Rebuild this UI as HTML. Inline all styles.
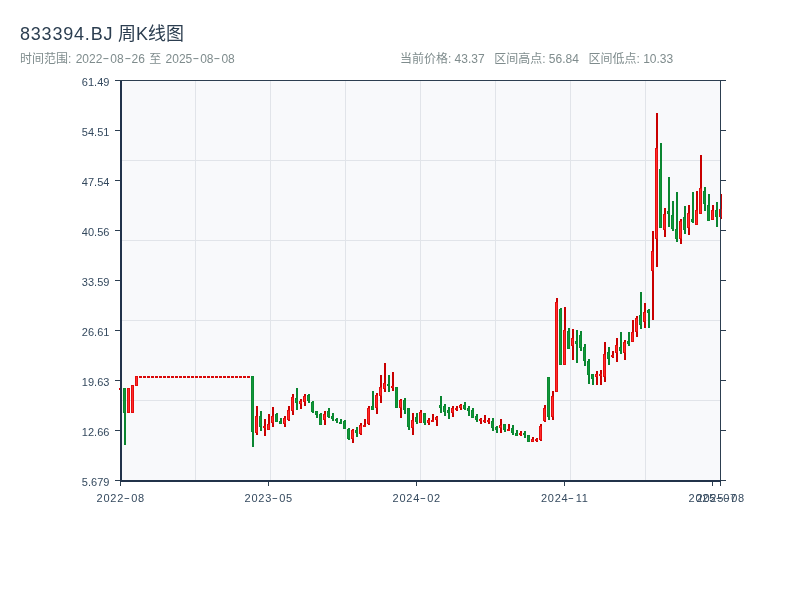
<!DOCTYPE html>
<html lang="zh-CN"><head><meta charset="utf-8"><title>833394.BJ 周K线图</title>
<style>
html,body{margin:0;padding:0;background:#fff;}
body{width:800px;height:600px;position:relative;overflow:hidden;font-family:"Liberation Sans","Noto Sans CJK SC",sans-serif;}
.t{position:absolute;white-space:pre;line-height:1;}
.title{left:20px;top:25px;font-size:18px;color:#2c3e50;}
.title .la{letter-spacing:0.8px;}
.title .cj{letter-spacing:0px;margin-left:-1px;}
.sub{top:52.6px;font-size:12px;color:#7f8c8d;word-spacing:1px;}
.yl{font-size:11px;color:#34495e;text-align:right;width:60px;left:49.4px;}
.xl{font-size:11px;color:#34495e;text-align:center;width:80px;letter-spacing:0.75px;padding-left:0.75px;}
.xl .d{width:7.2px;}
.d{display:inline-block;position:relative;top:-0.6px;width:7.9px;text-align:center;transform:scaleX(1.7);}
</style></head><body>
<svg width="800" height="600" viewBox="0 0 800 600" shape-rendering="crispEdges" style="position:absolute;left:0;top:0">
<rect x="120" y="80" width="601" height="401" fill="#f8f9fb"/>
<rect x="195" y="80" width="1" height="400" fill="#e1e4e9"/>
<rect x="270" y="80" width="1" height="400" fill="#e1e4e9"/>
<rect x="345" y="80" width="1" height="400" fill="#e1e4e9"/>
<rect x="420" y="80" width="1" height="400" fill="#e1e4e9"/>
<rect x="495" y="80" width="1" height="400" fill="#e1e4e9"/>
<rect x="570" y="80" width="1" height="400" fill="#e1e4e9"/>
<rect x="645" y="80" width="1" height="400" fill="#e1e4e9"/>
<rect x="120" y="160" width="600" height="1" fill="#e1e4e9"/>
<rect x="120" y="240" width="600" height="1" fill="#e1e4e9"/>
<rect x="120" y="320" width="600" height="1" fill="#e1e4e9"/>
<rect x="120" y="400" width="600" height="1" fill="#e1e4e9"/>
<g id="candles">
<rect x="120" y="388" width="2" height="2" fill="#c90000"/>
<rect x="119" y="388" width="3" height="2" fill="#d80808"/>
<rect x="124" y="388" width="2" height="57" fill="#0a8530"/>
<rect x="123" y="388" width="3" height="25" fill="#0a8a30"/>
<rect x="124" y="389" width="1" height="23" fill="#12963a"/>
<rect x="128" y="388" width="2" height="25" fill="#c90000"/>
<rect x="127" y="388" width="3" height="25" fill="#e30d0d"/>
<rect x="128" y="389" width="1" height="23" fill="#ff2b2b"/>
<rect x="132" y="385" width="2" height="28" fill="#c90000"/>
<rect x="131" y="385" width="3" height="28" fill="#e30d0d"/>
<rect x="132" y="386" width="1" height="26" fill="#ff2b2b"/>
<rect x="136" y="376" width="2" height="10" fill="#c90000"/>
<rect x="135" y="376" width="3" height="10" fill="#e30d0d"/>
<rect x="136" y="377" width="1" height="8" fill="#ff2b2b"/>
<rect x="140" y="376" width="2" height="2" fill="#c90000"/>
<rect x="139" y="376" width="3" height="2" fill="#d80808"/>
<rect x="144" y="376" width="2" height="2" fill="#c90000"/>
<rect x="143" y="376" width="3" height="2" fill="#d80808"/>
<rect x="148" y="376" width="2" height="2" fill="#c90000"/>
<rect x="147" y="376" width="3" height="2" fill="#d80808"/>
<rect x="152" y="376" width="2" height="2" fill="#c90000"/>
<rect x="151" y="376" width="3" height="2" fill="#d80808"/>
<rect x="156" y="376" width="2" height="2" fill="#c90000"/>
<rect x="155" y="376" width="3" height="2" fill="#d80808"/>
<rect x="160" y="376" width="2" height="2" fill="#c90000"/>
<rect x="159" y="376" width="3" height="2" fill="#d80808"/>
<rect x="164" y="376" width="2" height="2" fill="#c90000"/>
<rect x="163" y="376" width="3" height="2" fill="#d80808"/>
<rect x="168" y="376" width="2" height="2" fill="#c90000"/>
<rect x="167" y="376" width="3" height="2" fill="#d80808"/>
<rect x="172" y="376" width="2" height="2" fill="#c90000"/>
<rect x="171" y="376" width="3" height="2" fill="#d80808"/>
<rect x="176" y="376" width="2" height="2" fill="#c90000"/>
<rect x="175" y="376" width="3" height="2" fill="#d80808"/>
<rect x="180" y="376" width="2" height="2" fill="#c90000"/>
<rect x="179" y="376" width="3" height="2" fill="#d80808"/>
<rect x="184" y="376" width="2" height="2" fill="#c90000"/>
<rect x="183" y="376" width="3" height="2" fill="#d80808"/>
<rect x="188" y="376" width="2" height="2" fill="#c90000"/>
<rect x="187" y="376" width="3" height="2" fill="#d80808"/>
<rect x="192" y="376" width="2" height="2" fill="#c90000"/>
<rect x="191" y="376" width="3" height="2" fill="#d80808"/>
<rect x="196" y="376" width="2" height="2" fill="#c90000"/>
<rect x="195" y="376" width="3" height="2" fill="#d80808"/>
<rect x="200" y="376" width="2" height="2" fill="#c90000"/>
<rect x="199" y="376" width="3" height="2" fill="#d80808"/>
<rect x="204" y="376" width="2" height="2" fill="#c90000"/>
<rect x="203" y="376" width="3" height="2" fill="#d80808"/>
<rect x="208" y="376" width="2" height="2" fill="#c90000"/>
<rect x="207" y="376" width="3" height="2" fill="#d80808"/>
<rect x="212" y="376" width="2" height="2" fill="#c90000"/>
<rect x="211" y="376" width="3" height="2" fill="#d80808"/>
<rect x="216" y="376" width="2" height="2" fill="#c90000"/>
<rect x="215" y="376" width="3" height="2" fill="#d80808"/>
<rect x="220" y="376" width="2" height="2" fill="#c90000"/>
<rect x="219" y="376" width="3" height="2" fill="#d80808"/>
<rect x="224" y="376" width="2" height="2" fill="#c90000"/>
<rect x="223" y="376" width="3" height="2" fill="#d80808"/>
<rect x="228" y="376" width="2" height="2" fill="#c90000"/>
<rect x="227" y="376" width="3" height="2" fill="#d80808"/>
<rect x="232" y="376" width="2" height="2" fill="#c90000"/>
<rect x="231" y="376" width="3" height="2" fill="#d80808"/>
<rect x="236" y="376" width="2" height="2" fill="#c90000"/>
<rect x="235" y="376" width="3" height="2" fill="#d80808"/>
<rect x="240" y="376" width="2" height="2" fill="#c90000"/>
<rect x="239" y="376" width="3" height="2" fill="#d80808"/>
<rect x="244" y="376" width="2" height="2" fill="#c90000"/>
<rect x="243" y="376" width="3" height="2" fill="#d80808"/>
<rect x="248" y="376" width="2" height="2" fill="#c90000"/>
<rect x="247" y="376" width="3" height="2" fill="#d80808"/>
<rect x="252" y="376" width="2" height="71" fill="#0a8530"/>
<rect x="251" y="376" width="3" height="56" fill="#0a8a30"/>
<rect x="252" y="377" width="1" height="54" fill="#12963a"/>
<rect x="256" y="406" width="2" height="29" fill="#c90000"/>
<rect x="255" y="416" width="3" height="17" fill="#e30d0d"/>
<rect x="256" y="417" width="1" height="15" fill="#ff2b2b"/>
<rect x="260" y="411" width="2" height="20" fill="#0a8530"/>
<rect x="259" y="416" width="3" height="11" fill="#0a8a30"/>
<rect x="260" y="417" width="1" height="9" fill="#12963a"/>
<rect x="264" y="419" width="2" height="17" fill="#c90000"/>
<rect x="263" y="426" width="3" height="2" fill="#e30d0d"/>
<rect x="268" y="414" width="2" height="16" fill="#c90000"/>
<rect x="267" y="424" width="3" height="6" fill="#e30d0d"/>
<rect x="268" y="425" width="1" height="4" fill="#ff2b2b"/>
<rect x="272" y="407" width="2" height="20" fill="#c90000"/>
<rect x="271" y="416" width="3" height="7" fill="#e30d0d"/>
<rect x="272" y="417" width="1" height="5" fill="#ff2b2b"/>
<rect x="276" y="413" width="2" height="9" fill="#0a8530"/>
<rect x="275" y="414" width="3" height="8" fill="#0a8a30"/>
<rect x="276" y="415" width="1" height="6" fill="#12963a"/>
<rect x="280" y="418" width="2" height="6" fill="#0a8530"/>
<rect x="279" y="421" width="3" height="3" fill="#0a8a30"/>
<rect x="280" y="422" width="1" height="1" fill="#12963a"/>
<rect x="284" y="416" width="2" height="11" fill="#c90000"/>
<rect x="283" y="418" width="3" height="6" fill="#e30d0d"/>
<rect x="284" y="419" width="1" height="4" fill="#ff2b2b"/>
<rect x="288" y="406" width="2" height="15" fill="#c90000"/>
<rect x="287" y="410" width="3" height="10" fill="#e30d0d"/>
<rect x="288" y="411" width="1" height="8" fill="#ff2b2b"/>
<rect x="292" y="394" width="2" height="21" fill="#c90000"/>
<rect x="291" y="397" width="3" height="14" fill="#e30d0d"/>
<rect x="292" y="398" width="1" height="12" fill="#ff2b2b"/>
<rect x="296" y="388" width="2" height="22" fill="#0a8530"/>
<rect x="295" y="398" width="3" height="5" fill="#0a8a30"/>
<rect x="296" y="399" width="1" height="3" fill="#12963a"/>
<rect x="300" y="399" width="2" height="10" fill="#c90000"/>
<rect x="299" y="401" width="3" height="3" fill="#e30d0d"/>
<rect x="300" y="402" width="1" height="1" fill="#ff2b2b"/>
<rect x="304" y="394" width="2" height="12" fill="#c90000"/>
<rect x="303" y="396" width="3" height="6" fill="#e30d0d"/>
<rect x="304" y="397" width="1" height="4" fill="#ff2b2b"/>
<rect x="308" y="394" width="2" height="9" fill="#0a8530"/>
<rect x="307" y="395" width="3" height="6" fill="#0a8a30"/>
<rect x="308" y="396" width="1" height="4" fill="#12963a"/>
<rect x="312" y="401" width="2" height="12" fill="#0a8530"/>
<rect x="311" y="402" width="3" height="10" fill="#0a8a30"/>
<rect x="312" y="403" width="1" height="8" fill="#12963a"/>
<rect x="316" y="411" width="2" height="7" fill="#0a8530"/>
<rect x="315" y="411" width="3" height="4" fill="#0a8a30"/>
<rect x="316" y="412" width="1" height="2" fill="#12963a"/>
<rect x="320" y="413" width="2" height="12" fill="#0a8530"/>
<rect x="319" y="414" width="3" height="11" fill="#0a8a30"/>
<rect x="320" y="415" width="1" height="9" fill="#12963a"/>
<rect x="324" y="411" width="2" height="14" fill="#c90000"/>
<rect x="323" y="414" width="3" height="6" fill="#e30d0d"/>
<rect x="324" y="415" width="1" height="4" fill="#ff2b2b"/>
<rect x="328" y="408" width="2" height="10" fill="#0a8530"/>
<rect x="327" y="411" width="3" height="6" fill="#0a8a30"/>
<rect x="328" y="412" width="1" height="4" fill="#12963a"/>
<rect x="332" y="413" width="2" height="8" fill="#0a8530"/>
<rect x="331" y="416" width="3" height="3" fill="#0a8a30"/>
<rect x="332" y="417" width="1" height="1" fill="#12963a"/>
<rect x="336" y="418" width="2" height="5" fill="#0a8530"/>
<rect x="335" y="419" width="3" height="2" fill="#0a8a30"/>
<rect x="340" y="419" width="2" height="5" fill="#0a8530"/>
<rect x="339" y="422" width="3" height="2" fill="#0a8a30"/>
<rect x="344" y="420" width="2" height="9" fill="#0a8530"/>
<rect x="343" y="421" width="3" height="8" fill="#0a8a30"/>
<rect x="344" y="422" width="1" height="6" fill="#12963a"/>
<rect x="348" y="428" width="2" height="12" fill="#0a8530"/>
<rect x="347" y="429" width="3" height="10" fill="#0a8a30"/>
<rect x="348" y="430" width="1" height="8" fill="#12963a"/>
<rect x="352" y="429" width="2" height="14" fill="#c90000"/>
<rect x="351" y="430" width="3" height="9" fill="#e30d0d"/>
<rect x="352" y="431" width="1" height="7" fill="#ff2b2b"/>
<rect x="356" y="427" width="2" height="10" fill="#0a8530"/>
<rect x="355" y="430" width="3" height="3" fill="#0a8a30"/>
<rect x="356" y="431" width="1" height="1" fill="#12963a"/>
<rect x="360" y="423" width="2" height="12" fill="#c90000"/>
<rect x="359" y="425" width="3" height="9" fill="#e30d0d"/>
<rect x="360" y="426" width="1" height="7" fill="#ff2b2b"/>
<rect x="364" y="419" width="2" height="8" fill="#c90000"/>
<rect x="363" y="425" width="3" height="2" fill="#e30d0d"/>
<rect x="368" y="406" width="2" height="19" fill="#c90000"/>
<rect x="367" y="408" width="3" height="16" fill="#e30d0d"/>
<rect x="368" y="409" width="1" height="14" fill="#ff2b2b"/>
<rect x="372" y="391" width="2" height="19" fill="#0a8530"/>
<rect x="371" y="406" width="3" height="4" fill="#0a8a30"/>
<rect x="372" y="407" width="1" height="2" fill="#12963a"/>
<rect x="376" y="393" width="2" height="21" fill="#c90000"/>
<rect x="375" y="395" width="3" height="13" fill="#e30d0d"/>
<rect x="376" y="396" width="1" height="11" fill="#ff2b2b"/>
<rect x="380" y="375" width="2" height="28" fill="#c90000"/>
<rect x="379" y="387" width="3" height="9" fill="#e30d0d"/>
<rect x="380" y="388" width="1" height="7" fill="#ff2b2b"/>
<rect x="384" y="363" width="2" height="29" fill="#c90000"/>
<rect x="383" y="383" width="3" height="6" fill="#e30d0d"/>
<rect x="384" y="384" width="1" height="4" fill="#ff2b2b"/>
<rect x="388" y="375" width="2" height="17" fill="#0a8530"/>
<rect x="387" y="384" width="3" height="2" fill="#0a8a30"/>
<rect x="392" y="372" width="2" height="19" fill="#c90000"/>
<rect x="391" y="386" width="3" height="2" fill="#e30d0d"/>
<rect x="396" y="387" width="2" height="21" fill="#0a8530"/>
<rect x="395" y="387" width="3" height="21" fill="#0a8a30"/>
<rect x="396" y="388" width="1" height="19" fill="#12963a"/>
<rect x="400" y="399" width="2" height="19" fill="#c90000"/>
<rect x="399" y="400" width="3" height="8" fill="#e30d0d"/>
<rect x="400" y="401" width="1" height="6" fill="#ff2b2b"/>
<rect x="404" y="398" width="2" height="16" fill="#0a8530"/>
<rect x="403" y="400" width="3" height="10" fill="#0a8a30"/>
<rect x="404" y="401" width="1" height="8" fill="#12963a"/>
<rect x="408" y="408" width="2" height="22" fill="#0a8530"/>
<rect x="407" y="408" width="3" height="19" fill="#0a8a30"/>
<rect x="408" y="409" width="1" height="17" fill="#12963a"/>
<rect x="412" y="413" width="2" height="22" fill="#c90000"/>
<rect x="411" y="420" width="3" height="8" fill="#e30d0d"/>
<rect x="412" y="421" width="1" height="6" fill="#ff2b2b"/>
<rect x="416" y="413" width="2" height="11" fill="#0a8530"/>
<rect x="415" y="417" width="3" height="5" fill="#0a8a30"/>
<rect x="416" y="418" width="1" height="3" fill="#12963a"/>
<rect x="420" y="410" width="2" height="13" fill="#c90000"/>
<rect x="419" y="412" width="3" height="11" fill="#e30d0d"/>
<rect x="420" y="413" width="1" height="9" fill="#ff2b2b"/>
<rect x="424" y="413" width="2" height="12" fill="#0a8530"/>
<rect x="423" y="413" width="3" height="10" fill="#0a8a30"/>
<rect x="424" y="414" width="1" height="8" fill="#12963a"/>
<rect x="428" y="418" width="2" height="7" fill="#c90000"/>
<rect x="427" y="420" width="3" height="3" fill="#e30d0d"/>
<rect x="428" y="421" width="1" height="1" fill="#ff2b2b"/>
<rect x="432" y="414" width="2" height="8" fill="#c90000"/>
<rect x="431" y="420" width="3" height="2" fill="#e30d0d"/>
<rect x="436" y="416" width="2" height="10" fill="#c90000"/>
<rect x="435" y="417" width="3" height="3" fill="#e30d0d"/>
<rect x="436" y="418" width="1" height="1" fill="#ff2b2b"/>
<rect x="440" y="396" width="2" height="17" fill="#0a8530"/>
<rect x="439" y="405" width="3" height="3" fill="#0a8a30"/>
<rect x="440" y="406" width="1" height="1" fill="#12963a"/>
<rect x="444" y="404" width="2" height="12" fill="#0a8530"/>
<rect x="443" y="406" width="3" height="6" fill="#0a8a30"/>
<rect x="444" y="407" width="1" height="4" fill="#12963a"/>
<rect x="448" y="407" width="2" height="12" fill="#0a8530"/>
<rect x="447" y="410" width="3" height="3" fill="#0a8a30"/>
<rect x="448" y="411" width="1" height="1" fill="#12963a"/>
<rect x="452" y="406" width="2" height="11" fill="#c90000"/>
<rect x="451" y="408" width="3" height="5" fill="#e30d0d"/>
<rect x="452" y="409" width="1" height="3" fill="#ff2b2b"/>
<rect x="456" y="406" width="2" height="5" fill="#c90000"/>
<rect x="455" y="408" width="3" height="2" fill="#e30d0d"/>
<rect x="460" y="404" width="2" height="6" fill="#c90000"/>
<rect x="459" y="405" width="3" height="3" fill="#e30d0d"/>
<rect x="460" y="406" width="1" height="1" fill="#ff2b2b"/>
<rect x="464" y="402" width="2" height="8" fill="#0a8530"/>
<rect x="463" y="405" width="3" height="4" fill="#0a8a30"/>
<rect x="464" y="406" width="1" height="2" fill="#12963a"/>
<rect x="468" y="406" width="2" height="10" fill="#0a8530"/>
<rect x="467" y="408" width="3" height="3" fill="#0a8a30"/>
<rect x="468" y="409" width="1" height="1" fill="#12963a"/>
<rect x="472" y="408" width="2" height="10" fill="#0a8530"/>
<rect x="471" y="410" width="3" height="8" fill="#0a8a30"/>
<rect x="472" y="411" width="1" height="6" fill="#12963a"/>
<rect x="476" y="414" width="2" height="8" fill="#0a8530"/>
<rect x="475" y="416" width="3" height="4" fill="#0a8a30"/>
<rect x="476" y="417" width="1" height="2" fill="#12963a"/>
<rect x="480" y="418" width="2" height="6" fill="#c90000"/>
<rect x="479" y="419" width="3" height="2" fill="#e30d0d"/>
<rect x="484" y="415" width="2" height="8" fill="#c90000"/>
<rect x="483" y="420" width="3" height="2" fill="#e30d0d"/>
<rect x="488" y="418" width="2" height="6" fill="#c90000"/>
<rect x="487" y="420" width="3" height="2" fill="#e30d0d"/>
<rect x="492" y="418" width="2" height="13" fill="#0a8530"/>
<rect x="491" y="421" width="3" height="7" fill="#0a8a30"/>
<rect x="492" y="422" width="1" height="5" fill="#12963a"/>
<rect x="496" y="426" width="2" height="7" fill="#0a8530"/>
<rect x="495" y="427" width="3" height="3" fill="#0a8a30"/>
<rect x="496" y="428" width="1" height="1" fill="#12963a"/>
<rect x="500" y="419" width="2" height="14" fill="#c90000"/>
<rect x="499" y="425" width="3" height="3" fill="#e30d0d"/>
<rect x="500" y="426" width="1" height="1" fill="#ff2b2b"/>
<rect x="504" y="424" width="2" height="8" fill="#0a8530"/>
<rect x="503" y="424" width="3" height="6" fill="#0a8a30"/>
<rect x="504" y="425" width="1" height="4" fill="#12963a"/>
<rect x="508" y="424" width="2" height="7" fill="#c90000"/>
<rect x="507" y="429" width="3" height="2" fill="#e30d0d"/>
<rect x="512" y="425" width="2" height="10" fill="#0a8530"/>
<rect x="511" y="428" width="3" height="5" fill="#0a8a30"/>
<rect x="512" y="429" width="1" height="3" fill="#12963a"/>
<rect x="516" y="430" width="2" height="6" fill="#0a8530"/>
<rect x="515" y="433" width="3" height="3" fill="#0a8a30"/>
<rect x="516" y="434" width="1" height="1" fill="#12963a"/>
<rect x="520" y="431" width="2" height="5" fill="#c90000"/>
<rect x="519" y="433" width="3" height="2" fill="#e30d0d"/>
<rect x="524" y="431" width="2" height="7" fill="#0a8530"/>
<rect x="523" y="433" width="3" height="2" fill="#0a8a30"/>
<rect x="528" y="435" width="2" height="7" fill="#0a8530"/>
<rect x="527" y="435" width="3" height="7" fill="#0a8a30"/>
<rect x="528" y="436" width="1" height="5" fill="#12963a"/>
<rect x="532" y="437" width="2" height="5" fill="#c90000"/>
<rect x="531" y="439" width="3" height="3" fill="#e30d0d"/>
<rect x="532" y="440" width="1" height="1" fill="#ff2b2b"/>
<rect x="536" y="438" width="2" height="4" fill="#c90000"/>
<rect x="535" y="439" width="3" height="2" fill="#e30d0d"/>
<rect x="540" y="424" width="2" height="17" fill="#c90000"/>
<rect x="539" y="426" width="3" height="14" fill="#e30d0d"/>
<rect x="540" y="427" width="1" height="12" fill="#ff2b2b"/>
<rect x="544" y="405" width="2" height="17" fill="#c90000"/>
<rect x="543" y="408" width="3" height="13" fill="#e30d0d"/>
<rect x="544" y="409" width="1" height="11" fill="#ff2b2b"/>
<rect x="548" y="377" width="2" height="43" fill="#0a8530"/>
<rect x="547" y="377" width="3" height="40" fill="#0a8a30"/>
<rect x="548" y="378" width="1" height="38" fill="#12963a"/>
<rect x="552" y="391" width="2" height="29" fill="#c90000"/>
<rect x="551" y="396" width="3" height="21" fill="#e30d0d"/>
<rect x="552" y="397" width="1" height="19" fill="#ff2b2b"/>
<rect x="556" y="298" width="2" height="94" fill="#c90000"/>
<rect x="555" y="302" width="3" height="90" fill="#e30d0d"/>
<rect x="556" y="303" width="1" height="88" fill="#ff2b2b"/>
<rect x="560" y="308" width="2" height="57" fill="#0a8530"/>
<rect x="559" y="309" width="3" height="56" fill="#0a8a30"/>
<rect x="560" y="310" width="1" height="54" fill="#12963a"/>
<rect x="564" y="307" width="2" height="58" fill="#c90000"/>
<rect x="563" y="330" width="3" height="35" fill="#e30d0d"/>
<rect x="564" y="331" width="1" height="33" fill="#ff2b2b"/>
<rect x="568" y="328" width="2" height="21" fill="#0a8530"/>
<rect x="567" y="331" width="3" height="18" fill="#0a8a30"/>
<rect x="568" y="332" width="1" height="16" fill="#12963a"/>
<rect x="572" y="329" width="2" height="31" fill="#c90000"/>
<rect x="571" y="338" width="3" height="8" fill="#e30d0d"/>
<rect x="572" y="339" width="1" height="6" fill="#ff2b2b"/>
<rect x="576" y="330" width="2" height="33" fill="#0a8530"/>
<rect x="575" y="341" width="3" height="3" fill="#0a8a30"/>
<rect x="576" y="342" width="1" height="1" fill="#12963a"/>
<rect x="580" y="331" width="2" height="20" fill="#0a8530"/>
<rect x="579" y="335" width="3" height="13" fill="#0a8a30"/>
<rect x="580" y="336" width="1" height="11" fill="#12963a"/>
<rect x="584" y="344" width="2" height="22" fill="#0a8530"/>
<rect x="583" y="347" width="3" height="14" fill="#0a8a30"/>
<rect x="584" y="348" width="1" height="12" fill="#12963a"/>
<rect x="588" y="359" width="2" height="25" fill="#0a8530"/>
<rect x="587" y="361" width="3" height="14" fill="#0a8a30"/>
<rect x="588" y="362" width="1" height="12" fill="#12963a"/>
<rect x="592" y="374" width="2" height="11" fill="#0a8530"/>
<rect x="591" y="374" width="3" height="5" fill="#0a8a30"/>
<rect x="592" y="375" width="1" height="3" fill="#12963a"/>
<rect x="596" y="371" width="2" height="14" fill="#c90000"/>
<rect x="595" y="374" width="3" height="3" fill="#e30d0d"/>
<rect x="596" y="375" width="1" height="1" fill="#ff2b2b"/>
<rect x="600" y="370" width="2" height="15" fill="#c90000"/>
<rect x="599" y="374" width="3" height="2" fill="#e30d0d"/>
<rect x="604" y="342" width="2" height="40" fill="#c90000"/>
<rect x="603" y="354" width="3" height="23" fill="#e30d0d"/>
<rect x="604" y="355" width="1" height="21" fill="#ff2b2b"/>
<rect x="608" y="347" width="2" height="18" fill="#0a8530"/>
<rect x="607" y="352" width="3" height="7" fill="#0a8a30"/>
<rect x="608" y="353" width="1" height="5" fill="#12963a"/>
<rect x="612" y="351" width="2" height="7" fill="#c90000"/>
<rect x="611" y="355" width="3" height="2" fill="#e30d0d"/>
<rect x="616" y="338" width="2" height="24" fill="#c90000"/>
<rect x="615" y="345" width="3" height="8" fill="#e30d0d"/>
<rect x="616" y="346" width="1" height="6" fill="#ff2b2b"/>
<rect x="620" y="332" width="2" height="22" fill="#0a8530"/>
<rect x="619" y="347" width="3" height="4" fill="#0a8a30"/>
<rect x="620" y="348" width="1" height="2" fill="#12963a"/>
<rect x="624" y="340" width="2" height="20" fill="#c90000"/>
<rect x="623" y="342" width="3" height="11" fill="#e30d0d"/>
<rect x="624" y="343" width="1" height="9" fill="#ff2b2b"/>
<rect x="628" y="332" width="2" height="14" fill="#0a8530"/>
<rect x="627" y="341" width="3" height="3" fill="#0a8a30"/>
<rect x="628" y="342" width="1" height="1" fill="#12963a"/>
<rect x="632" y="320" width="2" height="22" fill="#c90000"/>
<rect x="631" y="332" width="3" height="10" fill="#e30d0d"/>
<rect x="632" y="333" width="1" height="8" fill="#ff2b2b"/>
<rect x="636" y="316" width="2" height="21" fill="#c90000"/>
<rect x="635" y="318" width="3" height="14" fill="#e30d0d"/>
<rect x="636" y="319" width="1" height="12" fill="#ff2b2b"/>
<rect x="640" y="292" width="2" height="37" fill="#0a8530"/>
<rect x="639" y="315" width="3" height="10" fill="#0a8a30"/>
<rect x="640" y="316" width="1" height="8" fill="#12963a"/>
<rect x="644" y="303" width="2" height="25" fill="#c90000"/>
<rect x="643" y="312" width="3" height="10" fill="#e30d0d"/>
<rect x="644" y="313" width="1" height="8" fill="#ff2b2b"/>
<rect x="648" y="309" width="2" height="19" fill="#0a8530"/>
<rect x="647" y="310" width="3" height="3" fill="#0a8a30"/>
<rect x="648" y="311" width="1" height="1" fill="#12963a"/>
<rect x="652" y="231" width="2" height="89" fill="#c90000"/>
<rect x="651" y="251" width="3" height="20" fill="#e30d0d"/>
<rect x="652" y="252" width="1" height="18" fill="#ff2b2b"/>
<rect x="656" y="113" width="2" height="154" fill="#c90000"/>
<rect x="655" y="148" width="3" height="91" fill="#e30d0d"/>
<rect x="656" y="149" width="1" height="89" fill="#ff2b2b"/>
<rect x="660" y="143" width="2" height="85" fill="#0a8530"/>
<rect x="659" y="169" width="3" height="59" fill="#0a8a30"/>
<rect x="660" y="170" width="1" height="57" fill="#12963a"/>
<rect x="664" y="208" width="2" height="29" fill="#c90000"/>
<rect x="663" y="214" width="3" height="16" fill="#e30d0d"/>
<rect x="664" y="215" width="1" height="14" fill="#ff2b2b"/>
<rect x="668" y="177" width="2" height="50" fill="#0a8530"/>
<rect x="667" y="211" width="3" height="3" fill="#0a8a30"/>
<rect x="668" y="212" width="1" height="1" fill="#12963a"/>
<rect x="672" y="201" width="2" height="30" fill="#0a8530"/>
<rect x="671" y="215" width="3" height="14" fill="#0a8a30"/>
<rect x="672" y="216" width="1" height="12" fill="#12963a"/>
<rect x="676" y="192" width="2" height="50" fill="#0a8530"/>
<rect x="675" y="229" width="3" height="10" fill="#0a8a30"/>
<rect x="676" y="230" width="1" height="8" fill="#12963a"/>
<rect x="680" y="219" width="2" height="25" fill="#c90000"/>
<rect x="679" y="221" width="3" height="18" fill="#e30d0d"/>
<rect x="680" y="222" width="1" height="16" fill="#ff2b2b"/>
<rect x="684" y="206" width="2" height="28" fill="#0a8530"/>
<rect x="683" y="217" width="3" height="13" fill="#0a8a30"/>
<rect x="684" y="218" width="1" height="11" fill="#12963a"/>
<rect x="688" y="205" width="2" height="30" fill="#c90000"/>
<rect x="687" y="213" width="3" height="15" fill="#e30d0d"/>
<rect x="688" y="214" width="1" height="13" fill="#ff2b2b"/>
<rect x="692" y="192" width="2" height="31" fill="#0a8530"/>
<rect x="691" y="219" width="3" height="3" fill="#0a8a30"/>
<rect x="692" y="220" width="1" height="1" fill="#12963a"/>
<rect x="696" y="191" width="2" height="34" fill="#c90000"/>
<rect x="695" y="210" width="3" height="15" fill="#e30d0d"/>
<rect x="696" y="211" width="1" height="13" fill="#ff2b2b"/>
<rect x="700" y="155" width="2" height="59" fill="#c90000"/>
<rect x="699" y="188" width="3" height="26" fill="#e30d0d"/>
<rect x="700" y="189" width="1" height="24" fill="#ff2b2b"/>
<rect x="704" y="187" width="2" height="24" fill="#0a8530"/>
<rect x="703" y="191" width="3" height="13" fill="#0a8a30"/>
<rect x="704" y="192" width="1" height="11" fill="#12963a"/>
<rect x="708" y="194" width="2" height="27" fill="#0a8530"/>
<rect x="707" y="205" width="3" height="16" fill="#0a8a30"/>
<rect x="708" y="206" width="1" height="14" fill="#12963a"/>
<rect x="712" y="205" width="2" height="15" fill="#c90000"/>
<rect x="711" y="210" width="3" height="10" fill="#e30d0d"/>
<rect x="712" y="211" width="1" height="8" fill="#ff2b2b"/>
<rect x="716" y="202" width="2" height="25" fill="#0a8530"/>
<rect x="715" y="210" width="3" height="7" fill="#0a8a30"/>
<rect x="716" y="211" width="1" height="5" fill="#12963a"/>
<rect x="720" y="194" width="2" height="25" fill="#c90000"/>
<rect x="719" y="209" width="3" height="8" fill="#e30d0d"/>
<rect x="720" y="210" width="1" height="6" fill="#ff2b2b"/>
</g>
<rect x="120" y="80" width="2" height="402" fill="#21324a"/>
<rect x="120" y="80" width="601" height="1" fill="#2c3e50"/>
<rect x="720" y="80" width="1" height="402" fill="#2c3e50"/>
<rect x="120" y="480" width="601" height="2" fill="#21324a"/>
<rect x="115" y="80" width="5" height="1" fill="#2c3e50"/>
<rect x="721" y="80" width="5" height="1" fill="#2c3e50"/>
<rect x="115" y="130" width="5" height="1" fill="#2c3e50"/>
<rect x="721" y="130" width="5" height="1" fill="#2c3e50"/>
<rect x="115" y="180" width="5" height="1" fill="#2c3e50"/>
<rect x="721" y="180" width="5" height="1" fill="#2c3e50"/>
<rect x="115" y="230" width="5" height="1" fill="#2c3e50"/>
<rect x="721" y="230" width="5" height="1" fill="#2c3e50"/>
<rect x="115" y="280" width="5" height="1" fill="#2c3e50"/>
<rect x="721" y="280" width="5" height="1" fill="#2c3e50"/>
<rect x="115" y="330" width="5" height="1" fill="#2c3e50"/>
<rect x="721" y="330" width="5" height="1" fill="#2c3e50"/>
<rect x="115" y="380" width="5" height="1" fill="#2c3e50"/>
<rect x="721" y="380" width="5" height="1" fill="#2c3e50"/>
<rect x="115" y="430" width="5" height="1" fill="#2c3e50"/>
<rect x="721" y="430" width="5" height="1" fill="#2c3e50"/>
<rect x="115" y="480" width="5" height="1" fill="#2c3e50"/>
<rect x="721" y="480" width="5" height="1" fill="#2c3e50"/>
<rect x="120" y="482" width="1" height="4" fill="#2c3e50"/>
<rect x="268" y="482" width="1" height="4" fill="#2c3e50"/>
<rect x="416" y="482" width="1" height="4" fill="#2c3e50"/>
<rect x="564" y="482" width="1" height="4" fill="#2c3e50"/>
<rect x="712" y="482" width="1" height="4" fill="#2c3e50"/>
<rect x="720" y="482" width="1" height="4" fill="#2c3e50"/>
</svg>
<div class="t title"><span class="la">833394.BJ </span><span class="cj">周K线图</span></div>
<div class="t sub" style="left:20px">时间范围: 2022<span class="d">-</span>08<span class="d">-</span>26 至 2025<span class="d">-</span>08<span class="d">-</span>08</div>
<div class="t sub" style="left:400px;word-spacing:-0.1px">当前价格: 43.37   区间高点: 56.84   区间低点: 10.33</div>
<div class="t yl" style="top:77px">61.49</div>
<div class="t yl" style="top:127px">54.51</div>
<div class="t yl" style="top:177px">47.54</div>
<div class="t yl" style="top:227px">40.56</div>
<div class="t yl" style="top:277px">33.59</div>
<div class="t yl" style="top:327px">26.61</div>
<div class="t yl" style="top:377px">19.63</div>
<div class="t yl" style="top:427px">12.66</div>
<div class="t yl" style="top:477px">5.679</div>
<div class="t xl" style="left:80px;top:493px">2022<span class="d">-</span>08</div>
<div class="t xl" style="left:228px;top:493px">2023<span class="d">-</span>05</div>
<div class="t xl" style="left:376px;top:493px">2024<span class="d">-</span>02</div>
<div class="t xl" style="left:524px;top:493px">2024<span class="d">-</span>11</div>
<div class="t xl" style="left:672px;top:493px">2025<span class="d">-</span>07</div>
<div class="t xl" style="left:680px;top:493px">2025<span class="d">-</span>08</div>
</body></html>
